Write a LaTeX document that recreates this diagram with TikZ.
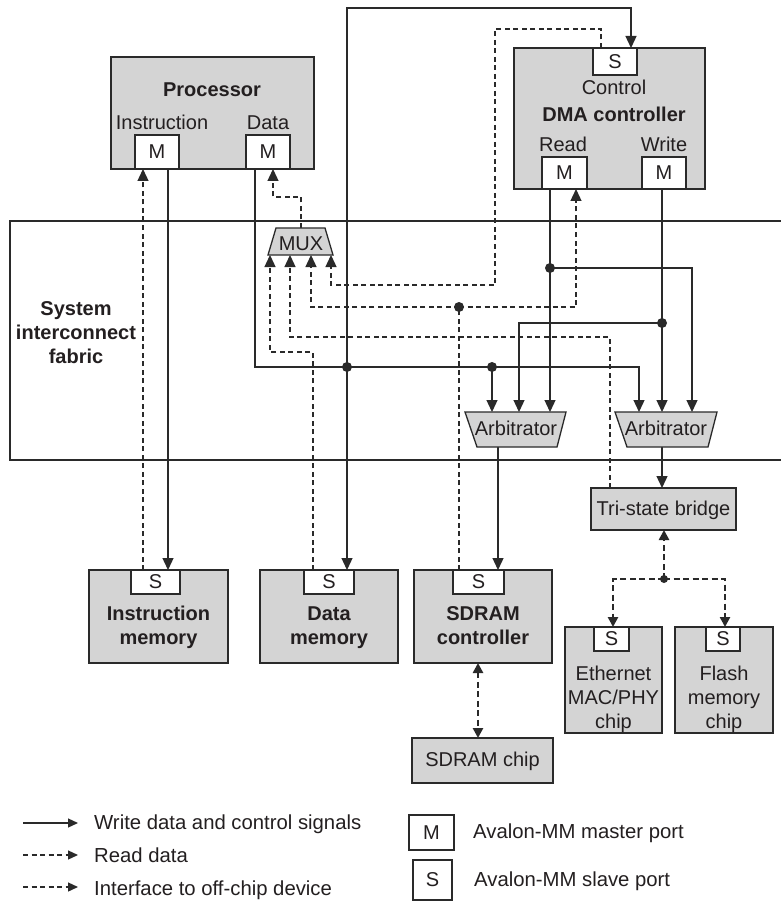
\documentclass[tikz,border=0pt]{standalone}
\usepackage{fontspec}
\setmainfont{Liberation Sans}
\usetikzlibrary{arrows.meta}

\definecolor{ink}{HTML}{2A2A2A}
\definecolor{boxgray}{HTML}{D4D4D4}
\definecolor{txt}{HTML}{231F20}

\begin{document}
\begin{tikzpicture}[x=1pt,y=-1pt,
  font=\fontsize{20}{24}\selectfont, text=txt,
  blk/.style={draw=ink, fill=boxgray, line width=1.4pt, inner sep=0pt, outer sep=0pt, anchor=north west},
  port/.style={draw=ink, fill=white, line width=1.4pt, inner sep=0pt, outer sep=0pt, anchor=north west},
  shp/.style={draw=ink, fill=boxgray, line width=1.3pt},
  lbl/.style={anchor=base, inner sep=0pt},
  bold/.style={lbl, font=\fontsize{20}{24}\selectfont\bfseries},
  lft/.style={anchor=base west, inner sep=0pt, font=\fontsize{20.3}{24}\selectfont},
  wire/.style={draw=ink, line width=1.3pt},
  tip/.style={-{Triangle[length=12pt,width=11pt]}},
  tipL/.style={-{Triangle[length=10pt,width=9pt]}},
  rd/.style={wire, dash pattern=on 5pt off 3.5pt},
  off/.style={draw=ink, line width=2.5pt, dash pattern=on 6pt off 3.5pt},
  offtip/.style={-{Triangle[length=10pt,width=10pt]}},
  dot/.style={circle, fill=ink, inner sep=0pt, minimum size=10pt},
]
\useasboundingbox (0,0) rectangle (780,901);
\fill[white] (0,0) rectangle (780,901);

% system interconnect fabric outline
\draw[draw=ink, line width=2.2pt] (784,221) -- (10,221) -- (10,460) -- (784,460);
\node[bold] (fab1) at (76,315) {System};
\node[bold] (fab2) at (76,339) {interconnect};
\node[bold] (fab3) at (76,363) {fabric};

% ---- solid connectors: write data and control ----
\draw[wire,tip] (168,169) -- (168,570);
\draw[wire,tip] (255,169) -- (255,367) -- (639,367) -- (639,412);
\draw[wire,tip] (492,367) -- (492,412);
\draw[wire,tip] (347,367) -- (347,570);
\draw[wire,tip] (347,367) -- (347,8) -- (631,8) -- (631,48);
\draw[wire,tip] (550,189) -- (550,412);
\draw[wire,tip] (550,268) -| (692,412);
\draw[wire,tip] (662,189) -- (662,412);
\draw[wire,tip] (662,323) -| (519,412);
\draw[wire,tip] (498,447) -- (498,570);
\draw[wire,tip] (662,447) -- (662,488);

% ---- dashed connectors: read data ----
\draw[rd,tip] (143,570) -- (143,169);
\draw[rd,tip] (301,228) -- (301,197) -| (273,169);
\draw[rd,tip] (313,570) -- (313,352) -| (270,255);
\draw[rd,tip] (610,488) -- (610,337) -| (290,255);
\draw[rd] (459,570) -- (459,307);
\draw[rd,tip] (459,307) -| (311,255);
\draw[rd,tip] (459,307) -| (576,189);
\draw[rd,tip] (601,48) -- (601,29) -- (495,29) -- (495,285) -| (331,255);

% ---- thick dashed: off-chip interfaces ----
\draw[off,{Triangle[length=10pt,width=10pt]}-{Triangle[length=10pt,width=10pt]}] (478,663) -- (478,738);
\draw[off,offtip] (664,579) -- (664,530);
\draw[off,offtip] (664,579) -| (613,627);
\draw[off,offtip] (664,579) -| (725,627);

% junction dots
\node[dot] (j1) at (347,367) {};
\node[dot] (j2) at (492,367) {};
\node[dot] (j3) at (550,268) {};
\node[dot] (j4) at (662,323) {};
\node[dot] (j5) at (459,307) {};
\node[dot, minimum size=8pt] (j6) at (664,579) {};

% ---- processor ----
\node[blk, minimum width=203, minimum height=112] (proc) at (111,57) {};
\node[bold] (procT) at (212,97) {Processor};
\node[lbl] (instrT) at (162,130) {Instruction};
\node[lbl] (dataT) at (268,130) {Data};
\node[port, minimum width=44, minimum height=34] (pim) at (135,135) {M};
\node[port, minimum width=44, minimum height=34] (pdm) at (246,135) {M};

% ---- DMA controller ----
\node[blk, minimum width=191, minimum height=141] (dma) at (514,48) {};
\node[port, minimum width=44, minimum height=27] (dmas) at (593,48) {S};
\node[lbl] (ctrlT) at (614,95) {Control};
\node[bold] (dmaT) at (614,122) {DMA controller};
\node[lbl] (readT) at (563,152) {Read};
\node[lbl] (writeT) at (664,152) {Write};
\node[port, minimum width=45, minimum height=32] (dmar) at (542,157) {M};
\node[port, minimum width=44, minimum height=32] (dmaw) at (642,157) {M};

% ---- multiplexer and arbitrators ----
\draw[shp] (276,228) -- (325,228) -- (333,255) -- (268,255) -- cycle;
\node[lbl] (mux) at (301,251) {MUX};
\draw[shp] (465,412) -- (566,412) -- (557,447) -- (477,447) -- cycle;
\node[lbl] (arbL) at (516,435) {Arbitrator};
\draw[shp] (615,412) -- (717,412) -- (708,447) -- (627,447) -- cycle;
\node[lbl] (arbR) at (666,435) {Arbitrator};

% ---- tri-state bridge and off-chip devices ----
\node[blk, minimum width=145, minimum height=42] (tsb) at (591,488) {};
\node[lbl] (tsbT) at (663.5,515) {Tri-state bridge};

\node[blk, minimum width=97, minimum height=106] (eth) at (565,627) {};
\node[port, minimum width=35, minimum height=24] (eths) at (594,627) {S};
\node[lbl] (eth1) at (613.5,680) {Ethernet};
\node[lbl] (eth2) at (613.5,704) {MAC/PHY};
\node[lbl] (eth3) at (613.5,728) {chip};

\node[blk, minimum width=98, minimum height=106] (fls) at (675,627) {};
\node[port, minimum width=34, minimum height=24] (flss) at (706,627) {S};
\node[lbl] (fls1) at (724,680) {Flash};
\node[lbl] (fls2) at (724,704) {memory};
\node[lbl] (fls3) at (724,728) {chip};

% ---- memories ----
\node[blk, minimum width=139, minimum height=93] (imem) at (89,570) {};
\node[port, minimum width=49, minimum height=24] (imems) at (131,570) {S};
\node[bold] (imem1) at (158.5,620) {Instruction};
\node[bold] (imem2) at (158.5,644) {memory};

\node[blk, minimum width=138, minimum height=93] (dmem) at (260,570) {};
\node[port, minimum width=50, minimum height=24] (dmems) at (304,570) {S};
\node[bold] (dmem1) at (329,620) {Data};
\node[bold] (dmem2) at (329,644) {memory};

\node[blk, minimum width=138, minimum height=93] (sdc) at (414,570) {};
\node[port, minimum width=51, minimum height=24] (sdcs) at (453,570) {S};
\node[bold] (sdc1) at (483,620) {SDRAM};
\node[bold] (sdc2) at (483,644) {controller};

\node[blk, minimum width=141, minimum height=45] (sdchip) at (412,738) {};
\node[lbl] (sdchipT) at (482.5,766) {SDRAM chip};

% ---- legend ----
\coordinate (lg1a) at (23,823); \coordinate (lg1b) at (78,823);
\coordinate (lg2a) at (23,855); \coordinate (lg2b) at (78,855);
\coordinate (lg3a) at (23,887); \coordinate (lg3b) at (78,887);
\draw[wire,tipL] (lg1a) -- (lg1b);
\draw[rd,tipL] (lg2a) -- (lg2b);
\draw[rd,tipL] (lg3a) -- (lg3b);
\node[lft] (lgt1) at (94,829) {Write data and control signals};
\node[lft] (lgt2) at (94,862) {Read data};
\node[lft] (lgt3) at (94,895) {Interface to off-chip device};

\node[port, minimum width=45, minimum height=35] (lgm) at (409,815) {M};
\node[port, minimum width=39, minimum height=40] (lgs) at (413,860) {S};
\node[lft] (lgt4) at (473,838) {Avalon-MM master port};
\node[lft] (lgt5) at (474,886) {Avalon-MM slave port};
\end{tikzpicture}
\end{document}
